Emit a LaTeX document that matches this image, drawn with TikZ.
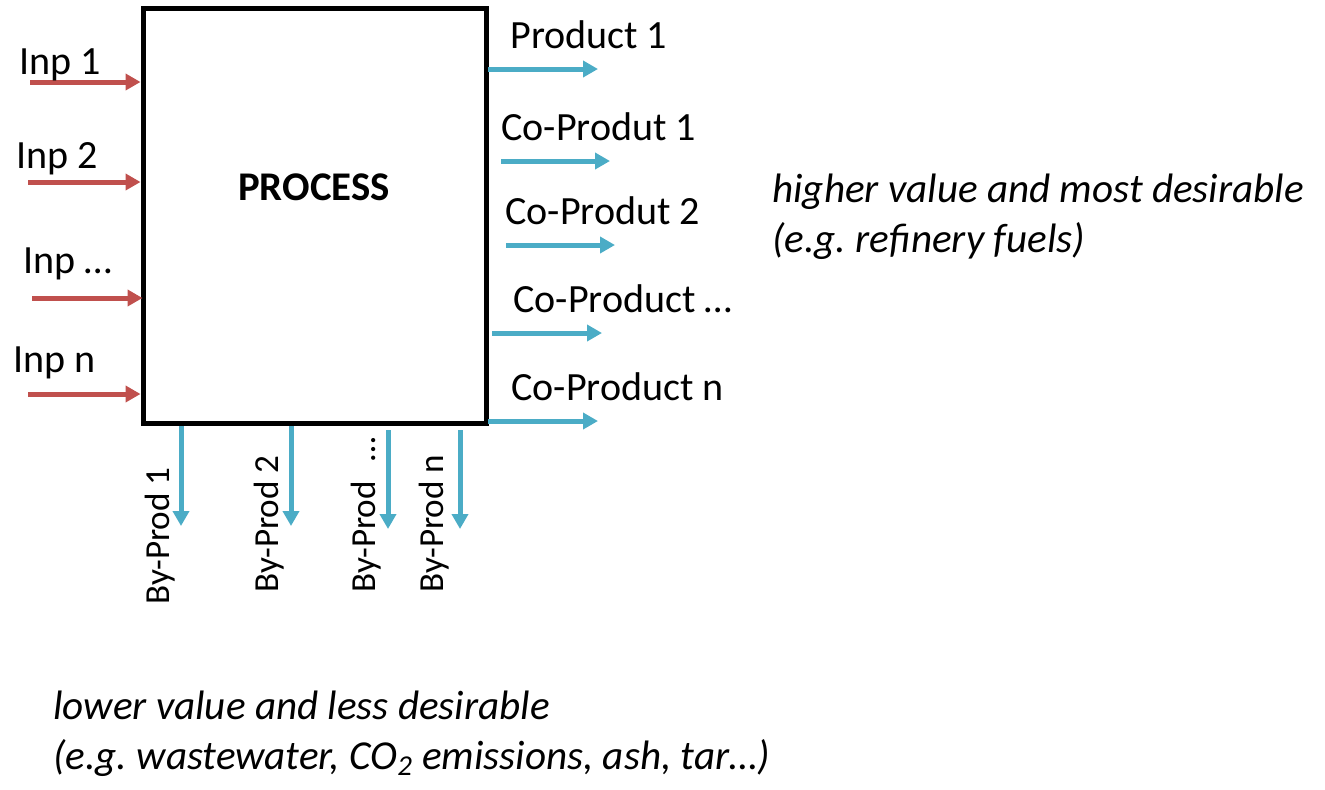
\documentclass[tikz,border=0pt]{standalone}
\usepackage{fontspec}
\setmainfont{Carlito}
\usetikzlibrary{arrows.meta}
\definecolor{inred}{HTML}{C0504D}
\definecolor{outblue}{HTML}{4BACC6}
\frenchspacing
\begin{document}
\begin{tikzpicture}[x=0.02cm,y=-0.02cm,
  lbl/.style={font=\fontsize{22.8pt}{28pt}\selectfont, inner sep=0pt, anchor=base west},
  bylbl/.style={font=\fontsize{20pt}{24pt}\selectfont, inner sep=0pt, anchor=base west, rotate=90},
  note/.style={font=\fontsize{23.4pt}{28pt}\selectfont\itshape, inner sep=0pt, anchor=base west},
  inarrow/.style={draw=inred, line width=0.1cm, -{Triangle[length=0.3cm,width=0.32cm]}},
  outarrow/.style={draw=outblue, line width=0.1cm, -{Triangle[length=0.3cm,width=0.32cm]}},
  procbox/.style={draw=black, line width=0.1cm, minimum width=6.88cm, minimum height=8.32cm, inner sep=0pt}]
\useasboundingbox (0,0) rectangle (1325,789);
\node[procbox] (box) at (315,216) {};
\node[font=\fontsize{23.2pt}{28pt}\selectfont\bfseries, inner sep=0pt, anchor=base] (proc) at (314,200) {PROCESS};

% inputs
\coordinate (in1) at (30,82);
\coordinate (in2) at (28,182);
\coordinate (in3) at (32,298);
\coordinate (in4) at (28,394);
\draw[inarrow] (in1) -- (in1 -| box.west);
\draw[inarrow] (in2) -- (in2 -| box.west);
\draw[inarrow] (in3) -- ([xshift=0.04cm]in3 -| box.west);
\draw[inarrow] (in4) -- (in4 -| box.west);
\node[lbl] (lin1) at (19,74) {Inp 1};
\node[lbl] (lin2) at (16,168) {Inp 2};
\node[lbl] (lin3) at (23,273) {Inp \dots};
\node[lbl] (lin4) at (13,372) {Inp n};

% outputs
\coordinate (o1s) at (488,69);  \coordinate (o1e) at (598,69);
\coordinate (o2s) at (501,161); \coordinate (o2e) at (610,161);
\coordinate (o3s) at (506,245); \coordinate (o3e) at (615,245);
\coordinate (o4s) at (492,333); \coordinate (o4e) at (602,333);
\coordinate (o5s) at (488,421); \coordinate (o5e) at (598,421);
\draw[outarrow] (o1s) -- (o1e);
\draw[outarrow] (o2s) -- (o2e);
\draw[outarrow] (o3s) -- (o3e);
\draw[outarrow] (o4s) -- (o4e);
\draw[outarrow] (o5s) -- (o5e);
\node[lbl] (lo1) at (510,48) {Product 1};
\node[lbl] (lo2) at (501,140) {Co-Produt 1};
\node[lbl] (lo3) at (505,224) {Co-Produt 2};
\node[lbl] (lo4) at (513,312) {Co-Product \dots};
\node[lbl] (lo5) at (511,400) {Co-Product n};

% by-products
\coordinate (b1s) at (181,426); \coordinate (b1e) at (181,526);
\coordinate (b2s) at (291,426); \coordinate (b2e) at (291,526);
\coordinate (b3s) at (388,430); \coordinate (b3e) at (388,529);
\coordinate (b4s) at (460,430); \coordinate (b4e) at (460,529);
\draw[outarrow] (b1s) -- (b1e);
\draw[outarrow] (b2s) -- (b2e);
\draw[outarrow] (b3s) -- (b3e);
\draw[outarrow] (b4s) -- (b4e);
\node[bylbl] (lb1) at (169,605) {By-Prod 1};
\node[bylbl] (lb2) at (278,593) {By-Prod 2};
\node[bylbl] (lb3) at (375,593) {By-Prod \hspace{0.24cm}\dots};
\node[bylbl] (lb4) at (443,593) {By-Prod n};

% notes
\node[note] (hi1) at (772,202) {higher value and most desirable};
\node[note] (hi2) at (772,252) {(e.g. refinery fuels)};
\node[note] (lo1n) at (53,719) {lower value and less desirable};
\node[note] (lo2n) at (53,769) {(e.g. wastewater, CO\textsubscript{2} emissions, ash, tar\dots)};
\end{tikzpicture}
\end{document}
